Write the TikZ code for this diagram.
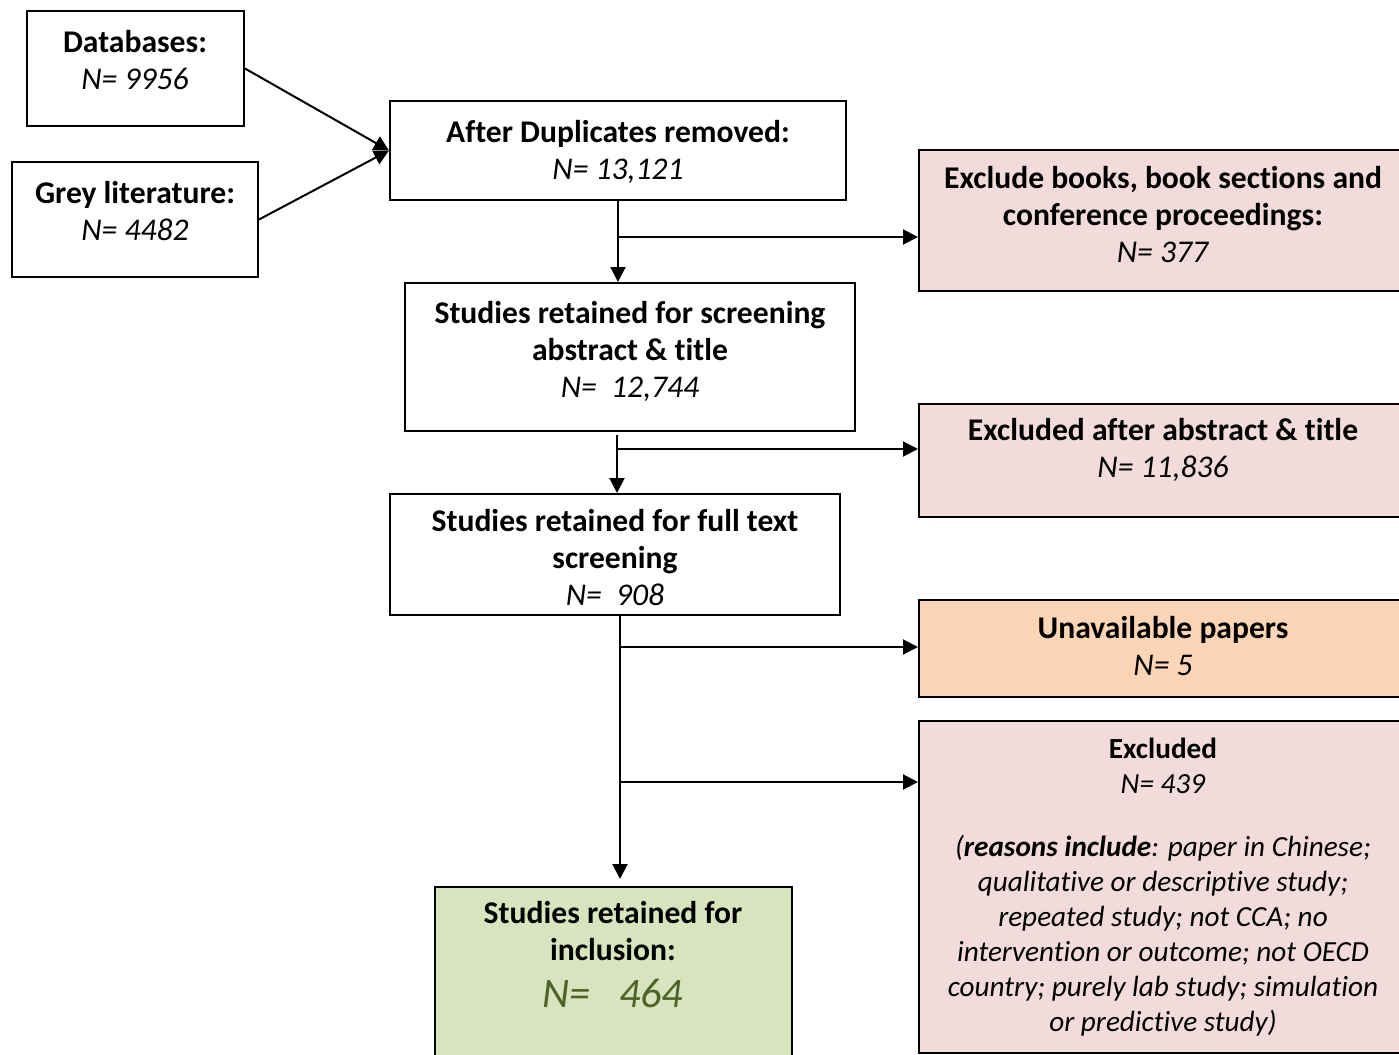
\documentclass[tikz,border=0pt]{standalone}
\usepackage{fontspec}
\setmainfont[Ligatures=NoCommon]{Carlito}
\usepackage{xcolor}
\usetikzlibrary{arrows.meta,fit}

\definecolor{pinkbox}{HTML}{F2DCDB}
\definecolor{orangebox}{HTML}{FBD5B5}
\definecolor{greenbox}{HTML}{D7E4BD}
\definecolor{greentext}{HTML}{4F6228}

\tikzset{
    box/.style={draw=black, line width=1pt, inner sep=0pt},
    txt/.style={align=center, inner sep=0pt, font=\fontsize{15.8}{18.5}\selectfont},
    arr/.style={-{Triangle[length=7.5pt,width=7.5pt]}, line width=1pt}
}

\begin{document}
\begin{tikzpicture}[x=0.5pt, y=-0.5pt]
    \useasboundingbox (0,0) rectangle (1399,1055);

    % Sources
    \node[box, fit={(27,11) (244,126)}] (db) {};
    \node[txt] (dbtxt) at (135,60.5) {\textbf{Databases:}\\\textit{N= 9956}};
    \node[box, fit={(12,162) (258,277)}] (grey) {};
    \node[txt] (greytxt) at (135,211.5) {\textbf{Grey literature:}\\\textit{N= 4482}};

    % Main column
    \node[box, fit={(390,101) (846,200)}] (dup) {};
    \node[txt] (duptxt) at (618,152) {\textbf{After Duplicates removed:}\\\textit{N= 13,121}};
    \node[box, fit={(405,283) (855,431)}] (screen) {};
    \node[txt] (screentxt) at (630,351) {\textbf{Studies retained for screening}\\\textbf{abstract \& title}\\\textit{N=\ \ 12,744}};
    \node[box, fit={(390,494) (840,615)}] (full) {};
    \node[txt] (fulltxt) at (615,558) {\textbf{Studies retained for full text}\\\textbf{screening}\\\textit{N=\ \ 908}};
    \node[box, fill=greenbox, fit={(435,887) (792,1060)}] (incl) {};
    \node[txt] (incltxt) at (613,955) {\textbf{Studies retained for}\\\textbf{inclusion:}\\[5pt]{\fontsize{21}{23}\selectfont\color{greentext}\textit{N=\ \ \ 464}}};

    % Exclusions
    \node[box, fill=pinkbox, fit={(919,150) (1402,291)}] (excla) {};
    \node[txt] (exclatxt) at (1163,215) {\textbf{Exclude books, book sections and}\\\textbf{conference proceedings:}\\\textit{N= 377}};
    \node[box, fill=pinkbox, fit={(919,404) (1402,517)}] (exclb) {};
    \node[txt] (exclbtxt) at (1163,449.5) {\textbf{Excluded after abstract \& title}\\\textit{N= 11,836}};
    \node[box, fill=orangebox, fit={(919,600) (1402,697)}] (unav) {};
    \node[txt] (unavtxt) at (1163,646.5) {\textbf{Unavailable papers}\\\textit{N= 5}};
    \node[box, fill=pinkbox, fit={(919,721) (1402,1053)}] (exclc) {};
    \node[txt, font=\fontsize{14.6}{17.5}\selectfont] (exclctxt) at (1163,887) {\textbf{Excluded}\\\textit{N= 439}\\[14pt]
        \textit{(\textbf{reasons include}: paper in Chinese;}\\
        \textit{qualitative or descriptive study;}\\
        \textit{repeated study; not CCA; no}\\
        \textit{intervention or outcome; not OECD}\\
        \textit{country; purely lab study; simulation}\\
        \textit{or predictive study)}};

    % Connectors
    \coordinate (ba) at (618,237);
    \coordinate (bb) at (617,449);
    \coordinate (bc) at (620,647);
    \coordinate (bd) at (620,782);
    \draw[arr] (db.east) -- (dup.west);
    \draw[arr] (grey.east) -- (dup.west);
    \draw[arr] (ba |- dup.south) -- (ba |- screen.north);
    \draw[arr] (ba) -- (ba -| excla.west);
    \draw[arr] (617,435) -- (bb |- full.north);
    \draw[arr] (bb) -- (bb -| exclb.west);
    \draw[arr] (bc |- full.south) -- (620,879);
    \draw[arr] (bc) -- (bc -| unav.west);
    \draw[arr] (bd) -- (bd -| exclc.west);
\end{tikzpicture}
\end{document}
